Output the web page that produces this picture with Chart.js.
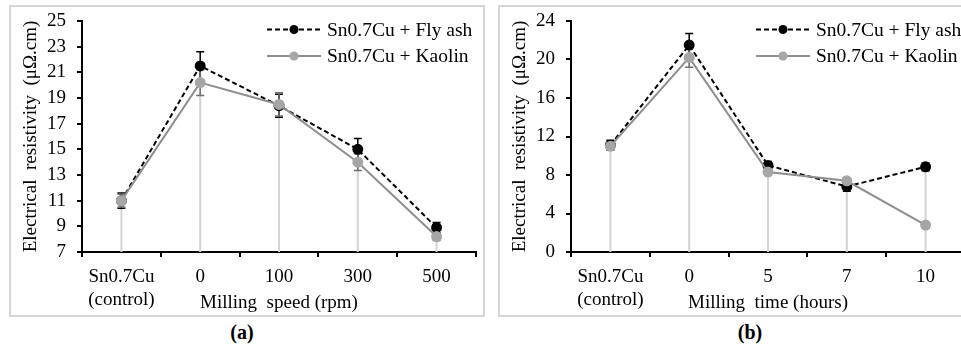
<!DOCTYPE html>
<html>
<head>
<meta charset="utf-8">
<script src="https://cdn.jsdelivr.net/npm/chart.js@4"></script>
<style>
  body { margin: 0; background: #fff; width: 961px; height: 345px; overflow: hidden; position: relative;
         font-family: 'Liberation Serif', 'Times New Roman', serif; }
  .panel { position: absolute; box-sizing: border-box; border: 2px solid #d6d6d6; }
  canvas { position: absolute; }
  .cap { position: absolute; top: 320px; font-size: 20px; font-weight: bold; width: 60px; text-align: center; line-height: 24px; }
</style>
</head>
<body>
<div class="panel" style="left:9px; top:5px; width:476px; height:312px;"></div>
<div class="panel" style="left:498px; top:5px; width:480px; height:312px;"></div>
<canvas id="chartA" width="472" height="307" style="left:11px; top:7px;"></canvas>
<canvas id="chartB" width="472" height="307" style="left:500px; top:7px;"></canvas>
<div class="cap" style="left:212px;">(a)</div>
<div class="cap" style="left:720px;">(b)</div>
<script>
// data
const speedLabels = [['Sn0.7Cu', '(control)'], '0', '100', '300', '500'];
const speedFlyAsh = [11.0, 21.5, 18.4, 15.0, 8.9];
const speedKaolin = [11.0, 20.2, 18.5, 14.0, 8.2];
const speedFlyAshErr = [0.6, 1.1, 0.9, 0.85, 0.4];
const speedKaolinErr = [0.5, 1.0, 0.9, 0.65, 0.3];

const timeLabels = [['Sn0.7Cu', '(control)'], '0', '5', '7', '10'];
const timeFlyAsh = [11.1, 21.5, 9.0, 6.8, 8.85];
const timeKaolin = [11.0, 20.2, 8.3, 7.4, 2.8];
const timeFlyAshErr = [0.5, 1.2, 0.4, 0.5, 0.4];
const timeKaolinErr = [0.4, 1.0, 0.3, 0.3, 0.3];

const yTitle = 'Electrical  resistivity  (\u03bc\u03a9.cm)';
const seriesNames = ['Sn0.7Cu + Fly ash', 'Sn0.7Cu + Kaolin'];

Chart.defaults.font.family = "'Liberation Serif', 'Times New Roman', serif";
Chart.defaults.font.size = 19;
Chart.defaults.color = '#000';

// grey drop lines from the highest point down to the axis, then error bars
const dropLines = {
  id: 'dropLines',
  beforeDatasetsDraw(chart) {
    const ctx = chart.ctx, x = chart.scales.x, y = chart.scales.y;
    const n = chart.data.labels.length;
    ctx.save();
    ctx.strokeStyle = '#d4d4d4';
    ctx.lineWidth = 2;
    for (let i = 0; i < n; i++) {
      let top = Math.max(...chart.data.datasets.map(d => d.data[i]));
      const px = x.getPixelForValue(i);
      ctx.beginPath();
      ctx.moveTo(px, y.getPixelForValue(top));
      ctx.lineTo(px, chart.chartArea.bottom);
      ctx.stroke();
    }
    chart.data.datasets.forEach(ds => {
      ctx.strokeStyle = ds.errColor;
      ctx.lineWidth = 1.5;
      ds.data.forEach((v, i) => {
        const px = x.getPixelForValue(i);
        const hi = y.getPixelForValue(v + ds.errors[i]);
        const lo = y.getPixelForValue(v - ds.errors[i]);
        ctx.beginPath();
        ctx.moveTo(px, hi); ctx.lineTo(px, lo);
        ctx.moveTo(px - 4, hi); ctx.lineTo(px + 4, hi);
        ctx.moveTo(px - 4, lo); ctx.lineTo(px + 4, lo);
        ctx.stroke();
      });
    });
    ctx.restore();
  }
};

// legend drawn in the top right of the plot
const sideLegend = {
  id: 'sideLegend',
  afterDraw(chart) {
    const ctx = chart.ctx, a = chart.chartArea;
    const x0 = a.left + 185, x1 = a.left + 239, tx = a.left + 245;
    const rows = [a.top + 8.5, a.top + 35];
    ctx.save();
    chart.data.datasets.forEach((ds, k) => {
      const yy = rows[k];
      ctx.strokeStyle = ds.borderColor;
      ctx.lineWidth = 2;
      ctx.setLineDash(ds.borderDash || []);
      ctx.beginPath();
      ctx.moveTo(x0, yy); ctx.lineTo(x1, yy);
      ctx.stroke();
      ctx.setLineDash([]);
      ctx.fillStyle = ds.pointBackgroundColor;
      ctx.beginPath();
      ctx.arc((x0 + x1) / 2, yy, 4.5, 0, Math.PI * 2);
      ctx.fill();
      ctx.fillStyle = '#000';
      ctx.font = "19.5px 'Liberation Serif', serif";
      ctx.textBaseline = 'middle';
      ctx.fillText(seriesNames[k], tx, yy + 1);
    });
    ctx.restore();
  }
};

function makeChart(id, labels, fly, kao, flyErr, kaoErr, yMin, yMax, step, xTitle) {
  return new Chart(document.getElementById(id), {
    type: 'line',
    data: {
      labels: labels,
      datasets: [{
        label: seriesNames[0],
        data: fly,
        errors: flyErr,
        errColor: '#000',
        borderColor: '#000',
        borderWidth: 2,
        borderDash: [5, 3],
        pointBackgroundColor: '#000',
        pointBorderColor: '#000',
        pointRadius: 4.5,
        order: 1
      }, {
        label: seriesNames[1],
        data: kao,
        errors: kaoErr,
        errColor: '#6e6e6e',
        borderColor: '#8e8e8e',
        borderWidth: 2,
        pointBackgroundColor: '#a6a6a6',
        pointBorderColor: '#a6a6a6',
        pointRadius: 4.5,
        order: 0
      }]
    },
    options: {
      responsive: false,
      animation: false,
      layout: { padding: { top: 14, right: 7, left: 0, bottom: 0 } },
      plugins: { legend: { display: false }, tooltip: { enabled: false } },
      scales: {
        x: {
          offset: true,
          grid: { offset: true, drawOnChartArea: false, color: '#000', lineWidth: 2, tickLength: 5 },
          border: { color: '#000', width: 2 },
          ticks: { padding: 9, maxRotation: 0, autoSkip: false },
          title: { display: true, text: xTitle, padding: { top: 0, bottom: 0 } },
          afterFit(s) { s.height = 62; s.paddingLeft = 0; s.paddingRight = 0; }
        },
        y: {
          min: yMin, max: yMax,
          ticks: { stepSize: step, padding: 11, autoSkip: false },
          grid: { drawOnChartArea: false, color: '#000', lineWidth: 2, tickLength: 5 },
          border: { color: '#000', width: 2 },
          title: { display: true, text: yTitle, padding: { top: 8.5, bottom: 0 } },
          afterFit(s) { s.width = 71; s.paddingTop = 0; s.paddingBottom = 0; }
        }
      }
    },
    plugins: [dropLines, sideLegend]
  });
}

makeChart('chartA', speedLabels, speedFlyAsh, speedKaolin, speedFlyAshErr, speedKaolinErr, 7, 25, 2, 'Milling  speed (rpm)');
makeChart('chartB', timeLabels, timeFlyAsh, timeKaolin, timeFlyAshErr, timeKaolinErr, 0, 24, 4, 'Milling  time (hours)');
</script>
</body>
</html>
